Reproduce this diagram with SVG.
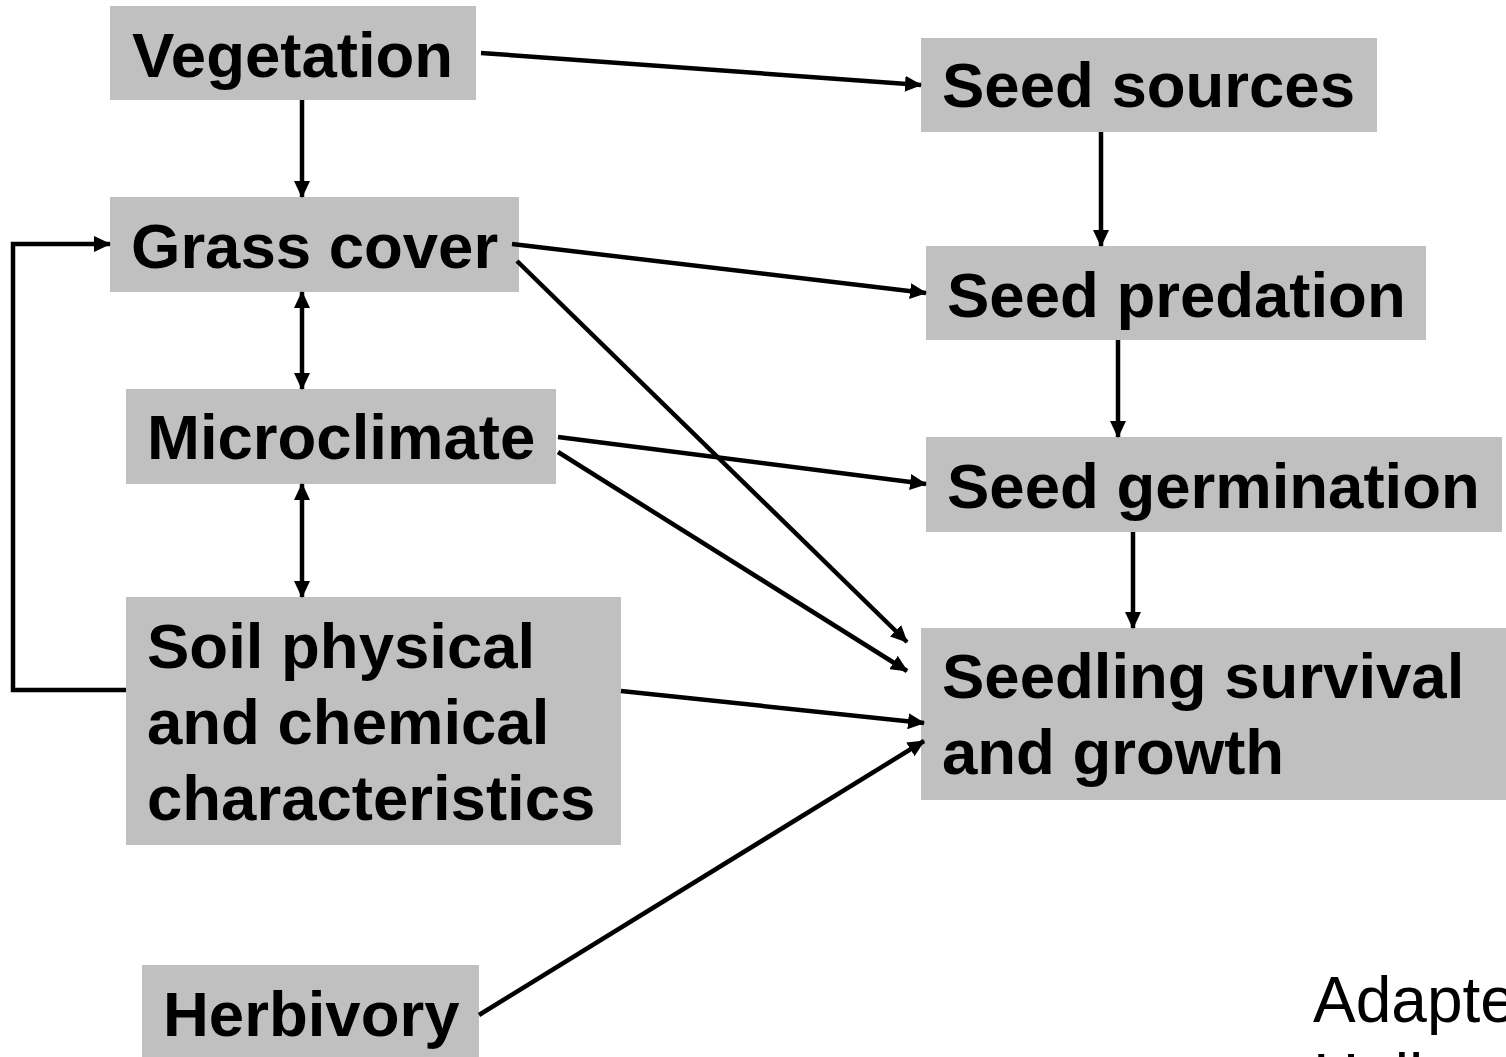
<svg xmlns="http://www.w3.org/2000/svg" width="1506" height="1057" viewBox="0 0 1506 1057">
<defs>
<style>
.box{fill:#C0C0C0;}
.lbl{font-family:"Liberation Sans",Arial,sans-serif;font-weight:bold;font-size:63.5px;fill:#000;}
.note{font-family:"Liberation Sans",Arial,sans-serif;font-size:64px;fill:#000;}
.c{stroke:#000;stroke-width:4.5;fill:none;}
</style>
<marker id="ah" markerUnits="userSpaceOnUse" markerWidth="17" markerHeight="16" refX="16" refY="8" orient="auto-start-reverse" viewBox="0 0 17 16">
<path d="M0,0 L17,8 L0,16 z" fill="#000"/>
</marker>
</defs>
<rect width="1506" height="1057" fill="#fff"/>
<g id="n-vegetation"><rect class="box" x="110" y="6" width="366" height="94"/><text class="lbl" x="132" y="77">Vegetation</text></g>
<g id="n-seedsources"><rect class="box" x="921" y="38" width="456" height="94"/><text class="lbl" x="942" y="107">Seed sources</text></g>
<g id="n-grass"><rect class="box" x="110" y="197" width="409" height="95"/><text class="lbl" x="131" y="268">Grass cover</text></g>
<g id="n-predation"><rect class="box" x="926" y="246" width="500" height="94"/><text class="lbl" x="947" y="317">Seed predation</text></g>
<g id="n-micro"><rect class="box" x="126" y="389" width="430" height="95"/><text class="lbl" x="147" y="459">Microclimate</text></g>
<g id="n-germ"><rect class="box" x="926" y="437" width="576" height="95"/><text class="lbl" x="947" y="508">Seed germination</text></g>
<g id="n-soil"><rect class="box" x="126" y="597" width="495" height="248"/><text class="lbl" x="147" y="668">Soil physical</text><text class="lbl" x="147" y="744">and chemical</text><text class="lbl" x="147" y="820">characteristics</text></g>
<g id="n-seedling"><rect class="box" x="921" y="628" width="585" height="172"/><text class="lbl" x="942" y="698">Seedling survival</text><text class="lbl" x="942" y="774">and growth</text></g>
<g id="n-herb"><rect class="box" x="142" y="965" width="337" height="92"/><text class="lbl" x="163" y="1036">Herbivory</text></g>
<g id="note"><text class="note" x="1313" y="1022">Adapted from</text><text class="note" x="1313" y="1099">Holl et al.</text></g>
<g id="connectors">
<line class="c" x1="481" y1="53" x2="921" y2="85" marker-end="url(#ah)"/>
<line class="c" x1="302" y1="100" x2="302" y2="197" marker-end="url(#ah)"/>
<polyline class="c" points="126,690 13,690 13,244 110,244" marker-end="url(#ah)"/>
<line class="c" x1="512" y1="244" x2="926" y2="293" marker-end="url(#ah)"/>
<line class="c" x1="517" y1="261" x2="907" y2="642" marker-end="url(#ah)"/>
<line class="c" x1="302" y1="292" x2="302" y2="389" marker-start="url(#ah)" marker-end="url(#ah)"/>
<line class="c" x1="558" y1="437" x2="926" y2="484" marker-end="url(#ah)"/>
<line class="c" x1="558" y1="452" x2="907" y2="671" marker-end="url(#ah)"/>
<line class="c" x1="302" y1="484" x2="302" y2="597" marker-start="url(#ah)" marker-end="url(#ah)"/>
<line class="c" x1="621" y1="691" x2="924" y2="723" marker-end="url(#ah)"/>
<line class="c" x1="479" y1="1015" x2="924" y2="741" marker-end="url(#ah)"/>
<line class="c" x1="1101" y1="132" x2="1101" y2="246" marker-end="url(#ah)"/>
<line class="c" x1="1118" y1="340" x2="1118" y2="437" marker-end="url(#ah)"/>
<line class="c" x1="1133" y1="532" x2="1133" y2="628" marker-end="url(#ah)"/>
</g>
</svg>
